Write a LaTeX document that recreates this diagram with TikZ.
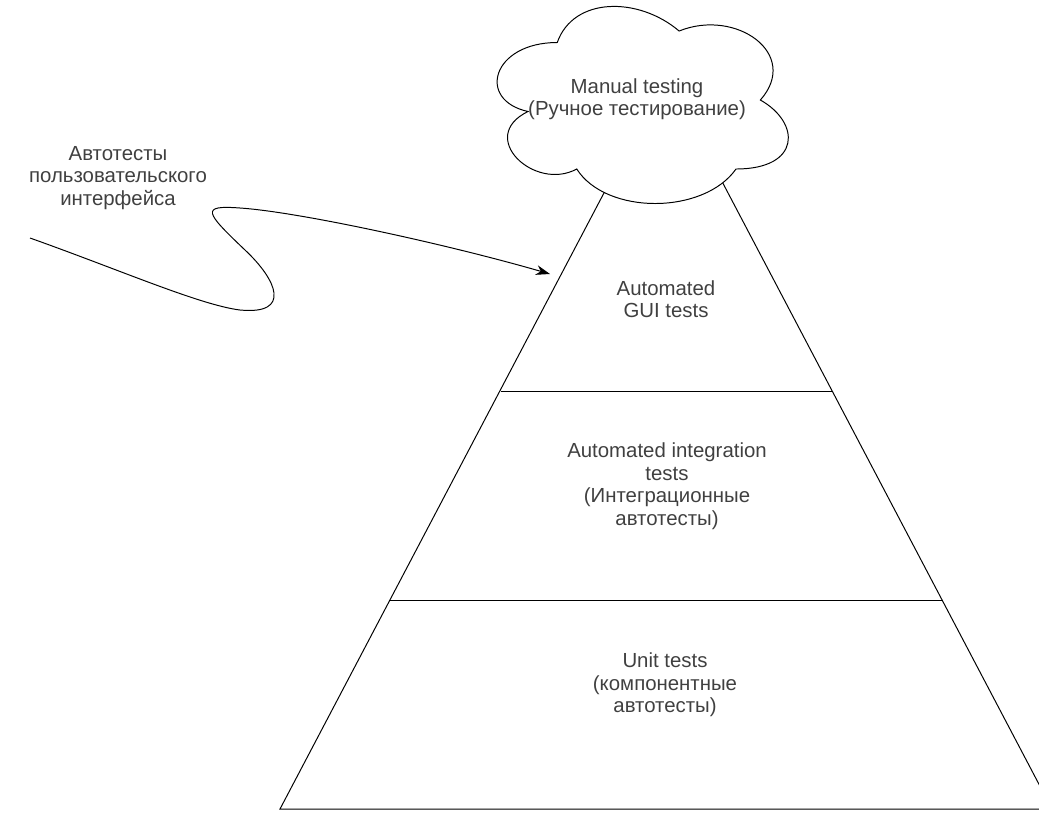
\documentclass[tikz,border=0pt]{standalone}
\usepackage{fontspec}
\setmainfont{Liberation Sans}
\usetikzlibrary{arrows.meta}

\begin{document}
\begin{tikzpicture}[x=0.025cm,y=-0.025cm,line width=0.7pt,
  every node/.style={align=center,text=black!75,font=\fontsize{14.5}{16}\selectfont}]
\useasboundingbox (0,0) rectangle (1039,812);
% pyramid and its levels
\draw (666,75) -- (280,809) -- (1052,809) -- cycle;
\draw (500.5,391) -- (831.5,391);
\draw (390,600) -- (942,600);
% cloud over the top
\begin{scope}[shift={(476,-15)},xscale=3.25,yscale=2.3]
\draw[fill=white] (25,25) .. controls (5,25) and (0,50) .. (16,55)
  .. controls (0,66) and (18,90) .. (31,80)
  .. controls (40,100) and (70,100) .. (80,80)
  .. controls (100,80) and (100,60) .. (87.5,50)
  .. controls (100,30) and (80,10) .. (62.5,20)
  .. controls (50,5) and (30,5) .. (25,25) -- cycle;
\end{scope}
\node (manual) at (637,99) {Manual testing\\(Ручное тестирование)};
\node (gui) at (666,299) {Automated\\GUI tests};
\node (integration) at (667,486) {Automated integration\\tests\\(Интеграционные\\автотесты)};
\node (unit) at (665,685) {Unit tests\\(компонентные\\автотесты)};
% label with its wavy arrow
\node (ui) at (118,178) {Автотесты\\пользовательского\\интерфейса};
\coordinate (uistart) at (30,238);
\coordinate (uitip) at (550,274);
\draw[-{Stealth[length=10pt,width=7pt]}] (uistart) .. controls (120,270) and (200,305) .. (240,310)
  .. controls (292,315) and (277,280) .. (245,250)
  .. controls (205,212) and (200,205) .. (240,208)
  .. controls (300,212) and (450,245) .. (uitip);
\end{tikzpicture}
\end{document}
